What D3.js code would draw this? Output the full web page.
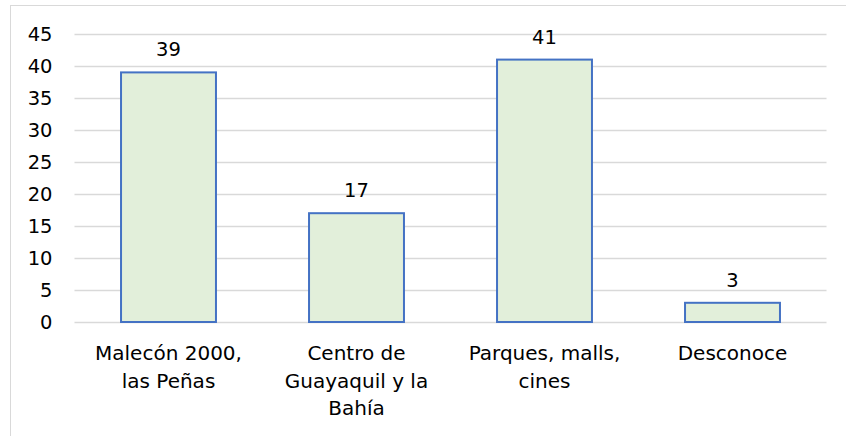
<!DOCTYPE html>
<html>
<head>
<meta charset="utf-8">
<script src="https://cdn.jsdelivr.net/npm/d3@7"></script>
<style>
  body { margin: 0; background: #fff; }
  svg { display: block; font-family: "DejaVu Sans", sans-serif; }
</style>
</head>
<body>
<svg class="bar-chart" width="846" height="436"></svg>
<script>
const categories = [
  ["Malecón 2000,", "las Peñas"],
  ["Centro de", "Guayaquil y la", "Bahía"],
  ["Parques, malls,", "cines"],
  ["Desconoce"]
];
const values = [39, 17, 41, 3];
const yTicks = [0, 5, 10, 15, 20, 25, 30, 35, 40, 45];

const svg = d3.select("svg.bar-chart");
const margin = {top: 34, right: 19.5, bottom: 114, left: 74.5};
const width = +svg.attr("width") - margin.left - margin.right;
const height = +svg.attr("height") - margin.top - margin.bottom;

// chart frame
svg.append("rect")
    .attr("x", 10.5).attr("y", 5.5)
    .attr("width", 846).attr("height", 440)
    .attr("fill", "none")
    .attr("stroke", "#d9d9d9");

const x = d3.scaleBand().domain(d3.range(values.length)).range([0, width]).paddingInner(0.495).paddingOuter(0.2475);
const y = d3.scaleLinear().domain([0, 45]).range([height, 0]);

const g = svg.append("g")
    .attr("transform", `translate(${margin.left}, ${margin.top})`);

g.append("g")
    .attr("class", "grid")
    .call(d3.axisLeft(y).tickValues(yTicks).tickSize(-width).tickFormat(""))
    .call(a => a.select(".domain").remove())
    .call(a => a.selectAll("line").attr("stroke", "#d9d9d9").attr("stroke-width", 1.5));

g.append("g")
    .call(d3.axisLeft(y).tickValues(yTicks).tickSize(0).tickPadding(22))
    .call(a => a.select(".domain").remove())
    .call(a => a.selectAll("text")
        .attr("font-size", 19.5)
        .attr("fill", "#000")
        .attr("font-family", "DejaVu Sans"));

g.selectAll(".bar")
    .data(values)
    .enter().append("rect")
        .attr("class", "bar")
        .attr("x", (d, i) => x(i))
        .attr("y", d => y(d))
        .attr("width", x.bandwidth())
        .attr("height", d => height - y(d))
        .attr("fill", "#e2efda")
        .attr("stroke", "#4472c4")
        .attr("stroke-width", 2);

g.selectAll(".value")
    .data(values)
    .enter().append("text")
        .attr("class", "value")
        .attr("x", (d, i) => x(i) + x.bandwidth() / 2)
        .attr("y", d => y(d) - 16)
        .attr("text-anchor", "middle")
        .attr("font-size", 19.5)
        .text(d => d);

const labels = g.selectAll(".cat")
    .data(categories)
    .enter().append("text")
        .attr("class", "cat")
        .attr("x", (d, i) => x(i) + x.bandwidth() / 2)
        .attr("y", height + 38)
        .attr("text-anchor", "middle")
        .attr("font-size", 20);

labels.selectAll("tspan")
    .data(d => d)
    .enter().append("tspan")
        .attr("x", function() { return this.parentNode.getAttribute("x"); })
        .attr("dy", (d, i) => i === 0 ? 0 : 27.5)
        .text(d => d);
</script>
</body>
</html>
